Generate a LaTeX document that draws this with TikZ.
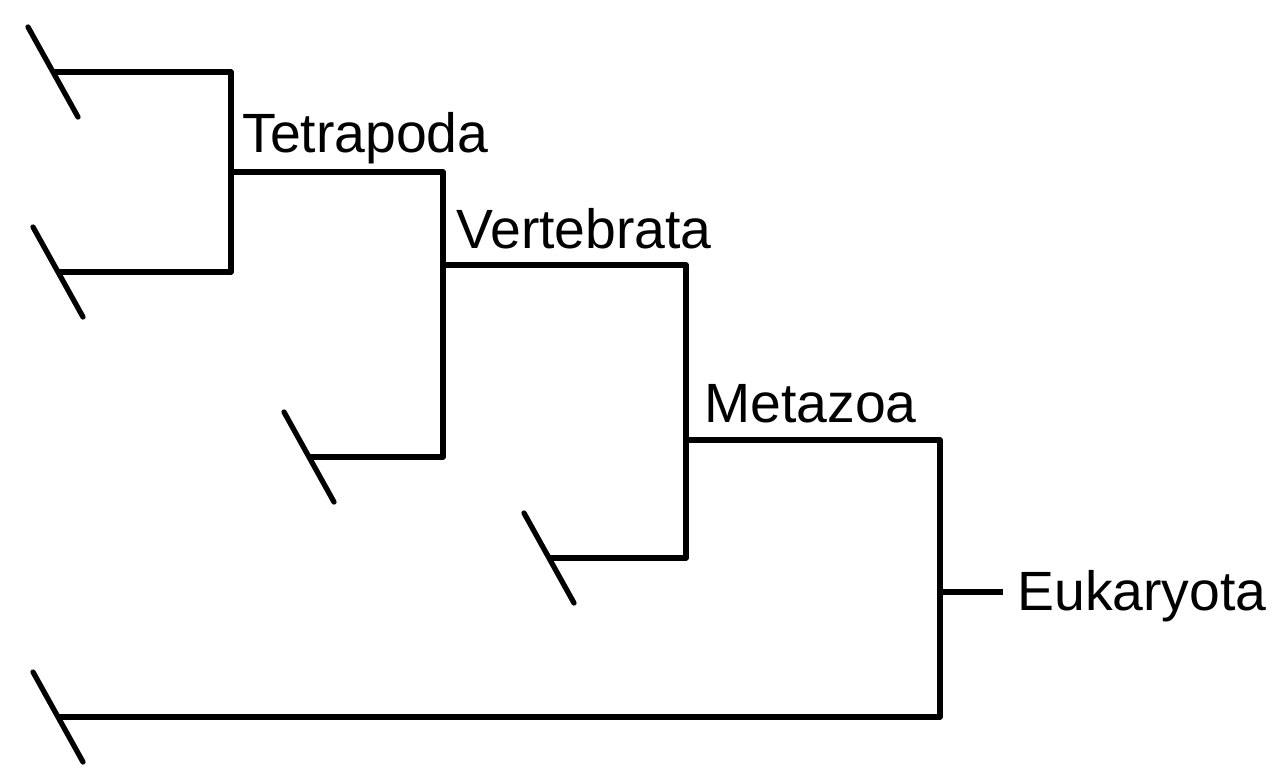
\documentclass[tikz,border=0pt]{standalone}
\usepackage{fontspec}
\setmainfont{Liberation Sans}
\usetikzlibrary{positioning}

\begin{document}
\begin{tikzpicture}[x=0.02cm, y=-0.02cm, branch/.style={line width=3pt, line join=round}, tick/.style={line width=3pt, line cap=round}, taxon/.style={anchor=base west, inner sep=0pt, font=\fontsize{31.5}{36}\selectfont}]
\useasboundingbox (0,0) rectangle (1287,782);
% leaves
\coordinate (l1) at (53,72);
\coordinate (l2) at (58,272);
\coordinate (l3) at (309,457);
\coordinate (l4) at (549,558);
\coordinate (l5) at (58,717);
% clades
\coordinate (tetra) at (231,172);
\coordinate (verte) at (443,265);
\coordinate (meta) at (686,440);
\coordinate (euka) at (940,592);
\coordinate (root) at (1003,592);
\draw[branch] (l1) -| (tetra) |- (l2);
\draw[branch] (tetra) -| (verte) |- (l3);
\draw[branch] (verte) -| (meta) |- (l4);
\draw[branch] (meta) -| (euka) |- (l5);
\draw[branch] (euka) -- (root);
\foreach \l in {l1,l2,l3,l4,l5}
  \draw[tick] ([shift={(-25,-45)}]\l) -- ([shift={(25,45)}]\l);
\node[taxon] (tetralbl) at (242,152) {Tetrapoda};
\node[taxon] (vertelbl) at (456,248) {Vertebrata};
\node[taxon] (metalbl) at (704,422) {Metazoa};
\node[taxon] (eukalbl) at (1017,610) {Eukaryota};
\end{tikzpicture}
\end{document}
